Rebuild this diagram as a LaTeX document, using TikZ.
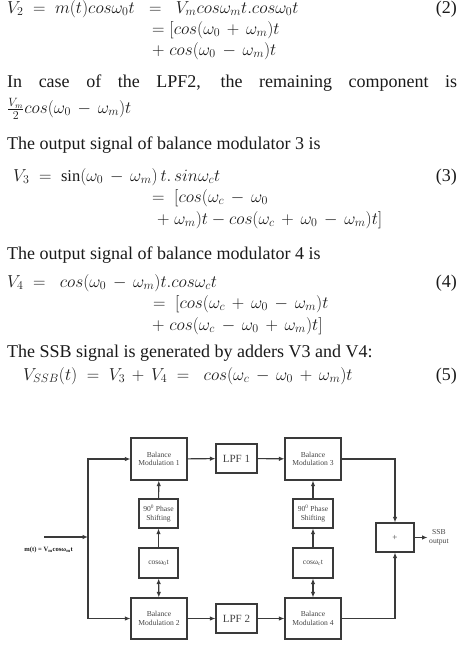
\documentclass[tikz,border=0pt]{standalone}
\usepackage{fontspec}
\setmainfont{Liberation Serif}
\usetikzlibrary{arrows.meta}
\definecolor{ink}{HTML}{1A1A1A}
\definecolor{linec}{HTML}{3A3A3A}
\definecolor{boxtxt}{HTML}{444444}
\newcommand{\bodyfont}{\fontsize{18}{21}\selectfont}
\newcommand{\eqfont}{\fontsize{16.5}{19}\selectfont}
\begin{document}
\begin{tikzpicture}[x=1pt,y=-1pt,
  txt/.style={anchor=mid west,inner sep=0,text=ink,font=\bodyfont,text height=8pt,text depth=3pt},
  eq/.style={anchor=mid west,inner sep=0,text=ink,font=\eqfont,text height=8pt,text depth=3pt},
  eqno/.style={anchor=mid east,inner sep=0,text=ink,font=\bodyfont,text height=8pt,text depth=3pt},
  blk/.style={draw=linec,line width=1.1pt,inner sep=0,align=center,text=boxtxt,
    font=\fontsize{7.6}{8.6}\selectfont},
  conn/.style={draw=linec,line width=1.1pt},
  arr/.style={conn,-{Latex[length=5.5pt,width=4.5pt]}},
  dbl/.style={conn,{Latex[length=5.5pt,width=4.5pt]}-{Latex[length=5.5pt,width=4.5pt]}}]
\useasboundingbox (0,0) rectangle (461,645);
% ---------- text ----------
\node[eq] (l1) at (7,11) {$V_2 \;=\; m(t)cos\omega_0t \;\;=\;\; V_m cos\omega_m t.cos\omega_0t$};
\node[eqno] (n2) at (457,11) {(2)};
\node[eq] (l2) at (152,32) {$=[cos(\omega_0 \,+\, \omega_m)t$};
\node[eq] (l3) at (152,53) {$+\; cos(\omega_0 \,-\, \omega_m)t$};
\node[txt] (l4) at (7,85) {\makebox[450pt][s]{In case of the LPF2, the remaining component is}};
\node[eq] (l5) at (7,111) {$\frac{V_m}{2}cos(\omega_0 \,-\, \omega_m)t$};
\node[txt] (l6) at (7,147) {The output signal of balance modulator 3 is};
\node[eq] (l7) at (13,179) {$V_3 \;=\; \sin(\omega_0 \,-\, \omega_m)\,t.\,sin\omega_ct$};
\node[eqno] (n3) at (457,179) {(3)};
\node[eq] (l8) at (152,200) {$=\; [cos(\omega_c \,-\, \omega_0$};
\node[eq] (l9) at (157,222) {$+\; \omega_m)t - cos(\omega_c \,+\, \omega_0 \,-\, \omega_m)t]$};
\node[txt] (l10) at (7,257) {The output signal of balance modulator 4 is};
\node[eq] (l11) at (7,285) {$V_4 \;=\;\; cos(\omega_0 \,-\, \omega_m)t.cos\omega_ct$};
\node[eqno] (n4) at (457,285) {(4)};
\node[eq] (l12) at (153,306) {$=\; [cos(\omega_c \,+\, \omega_0 \,-\, \omega_m)t$};
\node[eq] (l13) at (152,328) {$+\; cos(\omega_c \,-\, \omega_0 \,+\, \omega_m)t]$};
\node[txt] (l14) at (7,355) {The SSB signal is generated by adders V3 and V4:};
\node[eq] (l15) at (23,378) {$V_{SSB}(t) \;=\; V_3 \,+\, V_4 \;=\;\; cos(\omega_c \,-\, \omega_0 \,+\, \omega_m)t$};
\node[eqno] (n5) at (457,378) {(5)};
% ---------- diagram ----------
\node[blk,minimum width=56pt,minimum height=42pt] (bm1) at (159,459) {Balance\\Modulation 1};
\node[blk,minimum width=41pt,minimum height=29pt,font=\fontsize{11}{12}\selectfont] (lpf1) at (236.5,458.5) {LPF 1};
\node[blk,minimum width=56pt,minimum height=42pt] (bm3) at (313,459) {Balance\\Modulation 3};
\node[blk,minimum width=39pt,minimum height=29pt] (ps1) at (158.5,513.5) {90\textsuperscript{0} Phase\\Shifting};
\node[blk,minimum width=40pt,minimum height=29pt] (ps2) at (313,513.5) {90\textsuperscript{0} Phase\\Shifting};
\node[blk,minimum width=39pt,minimum height=30pt] (cos1) at (158.5,563) {cosω\textsubscript{0}t};
\node[blk,minimum width=40pt,minimum height=30pt] (cos2) at (313,563) {cosω\textsubscript{c}t};
\node[blk,minimum width=56pt,minimum height=41pt] (bm2) at (159,618.5) {Balance\\Modulation 2};
\node[blk,minimum width=41pt,minimum height=29pt,font=\fontsize{11}{12}\selectfont] (lpf2) at (236.5,618.5) {LPF 2};
\node[blk,minimum width=56pt,minimum height=41pt] (bm4) at (313,618.5) {Balance\\Modulation 4};
\node[blk,minimum width=38pt,minimum height=29pt,font=\fontsize{9}{10}\selectfont] (add) at (395,537.5) {+};
\node[inner sep=0,align=center,text=boxtxt,font=\fontsize{7.6}{8.6}\selectfont,anchor=west] (outl) at (429,537.5) {SSB\\output};
\node[inner sep=0,anchor=mid east,text=ink,font=\bfseries\fontsize{6.6}{7.6}\selectfont] (inl) at (73,549) {m(t) = V\textsubscript{m}cosω\textsubscript{m}t};
\coordinate (inS) at (44,537);
\coordinate (J) at (88,537);
\coordinate (out) at (427.5,537.5);
\draw[arr] (inS) -- (J);
\draw[arr] (J) |- (bm1.west);
\draw[arr] (J) |- (bm2.west);
\draw[arr] (bm1) -- (lpf1);
\draw[arr] (lpf1) -- (bm3);
\draw[arr] (bm2) -- (lpf2);
\draw[arr] (lpf2) -- (bm4);
\draw[arr] (cos1) -- (ps1);
\draw[arr] (ps1) -- (bm1);
\draw[dbl] (cos1) -- (bm2);
\draw[arr] (cos2) -- (ps2);
\draw[arr] (ps2) -- (bm3);
\draw[dbl] (cos2) -- (bm4);
\draw[arr] (bm3.east) -| (add.north);
\draw[arr] (bm4.east) -| (add.south);
\draw[arr] (add.east) -- (out);
\end{tikzpicture}
\end{document}
